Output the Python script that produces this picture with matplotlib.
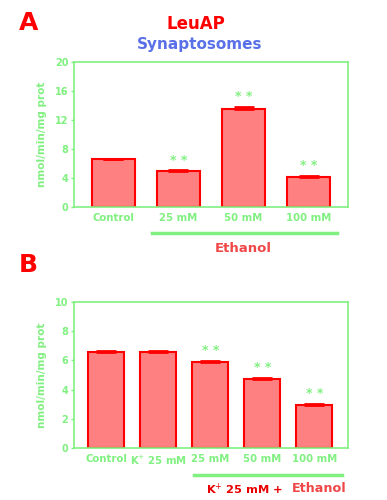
import matplotlib
matplotlib.use("Agg")
import matplotlib.pyplot as plt

plt.rcParams['font.family'] = ['DejaVu Sans']

GREEN = '#80f080'
RED = '#ff0000'
FILL = '#ff8080'
BLUE = '#5a70e8'

# Panel A data
cats_a = ['Control', '25 mM', '50 mM', '100 mM']
vals_a = [6.6, 4.9, 13.5, 4.1]
errs_a = [0.08, 0.17, 0.28, 0.18]
sig_a = ['', '* *', '* *', '* *']
yticks_a = [0, 4, 8, 12, 16, 20]

# Panel B data
cats_b = ['Control', 'K$^{+}$ 25 mM', '25 mM', '50 mM', '100 mM']
vals_b = [6.6, 6.55, 5.87, 4.7, 2.92]
errs_b = [0.06, 0.07, 0.09, 0.07, 0.07]
sig_b = ['', '', '* *', '* *', '* *']
yticks_b = [0, 2, 4, 6, 8, 10]

fig = plt.figure(figsize=(3.87, 5.0), dpi=100)
fig.patch.set_facecolor('white')


def panel(ax, cats, vals, errs, sig, yticks, ymax, xlim, width, star_off):
    x = list(range(len(cats)))
    ax.bar(x, vals, width=width, color=FILL, edgecolor=RED, linewidth=1.5, zorder=2)
    ax.errorbar(x, vals, yerr=[[0] * len(errs), errs], fmt='none', ecolor=RED,
                elinewidth=1.5, capsize=7, capthick=2, zorder=3)
    for xi, v, e, s in zip(x, vals, errs, sig):
        if s:
            ax.text(xi, v + e + star_off, s, color=GREEN, ha='center', va='bottom',
                    fontsize=9, fontweight='bold')
    ax.set_xlim(*xlim)
    ax.set_ylim(0, ymax)
    ax.set_yticks(yticks)
    ax.set_xticks(x)
    ax.set_xticklabels(cats)
    for sp in ax.spines.values():
        sp.set_color(GREEN)
        sp.set_linewidth(1.2)
    ax.tick_params(axis='y', colors=GREEN, labelsize=7, length=2, width=1, pad=2)
    ax.tick_params(axis='x', colors=GREEN, labelsize=7.3, length=0, pad=4)
    for lab in ax.get_xticklabels() + ax.get_yticklabels():
        lab.set_fontweight('bold')
        lab.set_color(GREEN)
    ax.set_ylabel('nmol/min/mg prot', color=GREEN, fontsize=7.5, fontweight='bold', labelpad=6)


axA = fig.add_axes([74 / 387, 1 - 207 / 500, 274 / 387, 145 / 500])
panel(axA, cats_a, vals_a, errs_a, sig_a, yticks_a, 20, (-0.6, 3.6), 0.66, 0.5)

axB = fig.add_axes([74 / 387, 1 - 448 / 500, 274 / 387, 146 / 500])
panel(axB, cats_b, vals_b, errs_b, sig_b, yticks_b, 10, (-0.62, 4.65), 0.69, 0.3)

# Titles and panel letters
fig.text(29 / 387, 1 - 23 / 500, 'A', color=RED, fontsize=18, fontweight='bold', ha='center', va='center')
fig.text(28 / 387, 1 - 265 / 500, 'B', color=RED, fontsize=18, fontweight='bold', ha='center', va='center')
fig.text(196 / 387, 1 - 24 / 500, 'LeuAP', color=RED, fontsize=12, fontweight='bold', ha='center', va='center')
fig.text(200 / 387, 1 - 44 / 500, 'Synaptosomes', color=BLUE, fontsize=11, fontweight='bold', ha='center', va='center')

# Ethanol bracket A
fig.add_artist(plt.Line2D([152 / 387, 337 / 387], [1 - 233 / 500] * 2, color=GREEN, lw=2.5))
fig.text(243 / 387, 1 - 248 / 500, 'Ethanol', color='#f04848', fontsize=9.5, fontweight='bold', ha='center', va='center')

# K+ + Ethanol bracket B
fig.add_artist(plt.Line2D([194 / 387, 342 / 387], [1 - 475 / 500] * 2, color=GREEN, lw=2.5))
fig.text(206 / 387, 1 - 489 / 500, 'K$^{+}$ 25 mM +', color='#e80000', fontsize=8.2, fontweight='bold', ha='left', va='center')
fig.text(347 / 387, 1 - 489 / 500, 'Ethanol', color='#f04848', fontsize=9.2, fontweight='bold', ha='right', va='center')

fig.savefig('out.png', dpi=100, facecolor='white')
